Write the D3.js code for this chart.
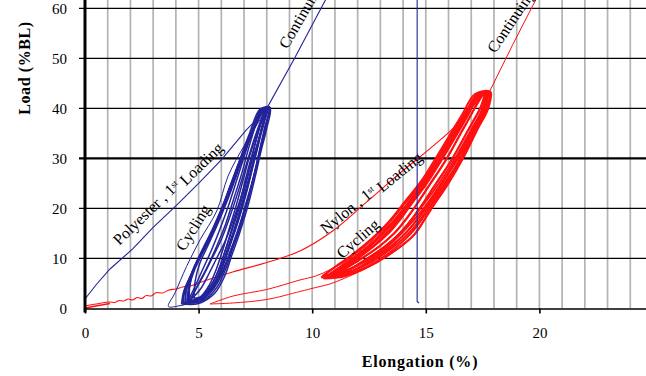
<!DOCTYPE html>
<html>
<head>
<meta charset="utf-8">
<script src="https://cdn.jsdelivr.net/npm/d3@7"></script>
<style>
  body { margin: 0; background: #fff; }
  text { font-family: "Liberation Serif", "Times New Roman", serif; fill: #000; }
</style>
</head>
<body>
<div id="chart"></div>
<script>
// Axis ticks
const xTicks = [0, 5, 10, 15, 20, 25];
const xGrid = [1, 2, 3, 4, 5, 6, 7, 8, 9, 10, 11, 12, 13, 14, 15, 16, 17, 18, 19, 20, 21, 22, 23, 24, 25];
const yTicks = [0, 10, 20, 30, 40, 50, 60];

// Polyester (blue) - [elongation %, load %BL]
const polyFirst = [[0, 1.9], [0.5, 4.8], [1.1, 7.9], [2.1, 11.9], [3.0, 16.2], [4.0, 20.5],
  [5.0, 25.0], [6.0, 29.7], [7.1, 35.7], [8.0, 39.8]];
const polyCont = [[8.0, 40], [9.2, 49.8], [10.6, 61.8], [11.5, 70], [14.62, 85], [14.62, 60],
  [14.62, 1.4], [14.7, 1.1]];
const polyUnload1 = [[8.0, 40], [7.6, 37], [7.0, 32.5], [6.3, 26.5], [5.8, 19.5], [5.06, 13.7],
  [4.47, 8.4], [3.96, 3.1], [3.67, 0.4], [4.1, 0.5], [4.8, 1.4], [5.4, 3.4], [5.9, 6.2],
  [6.3, 10.5], [6.7, 15.5], [7.1, 21], [7.45, 27], [7.75, 33], [8.0, 37.5], [8.15, 40]];
const polyLoops = [
  [[4.3, 1.0], [4.9, 1.6], [5.5, 3.5], [5.95, 6.5], [6.3, 10], [6.65, 14], [7.0, 19], [7.35, 25],
   [7.65, 31], [7.9, 36], [8.1, 40], [7.85, 40.2], [7.4, 36], [6.95, 31], [6.5, 25.5], [6.1, 20.5],
   [5.6, 15], [5.1, 10.5], [4.65, 6.5], [4.35, 3], [4.3, 1.0]],
  [[4.45, 1.3], [5.0, 1.8], [5.55, 4], [5.95, 7.5], [6.25, 11], [6.55, 15], [6.9, 20], [7.25, 26],
   [7.55, 32], [7.8, 36.5], [8.0, 39.8], [7.8, 40], [7.35, 35.5], [6.9, 30.5], [6.45, 25], [6.0, 19.5],
   [5.5, 14.5], [5.05, 10.5], [4.7, 7], [4.45, 3.5], [4.45, 1.3]],
  [[4.6, 1.6], [5.1, 2.2], [5.6, 5], [5.95, 8.5], [6.2, 12], [6.5, 16], [6.85, 21], [7.2, 27],
   [7.5, 33], [7.75, 37], [7.95, 39.6], [7.75, 39.9], [7.3, 35], [6.85, 30], [6.4, 24.5], [5.95, 19],
   [5.45, 14], [5.0, 10], [4.75, 7.5], [4.6, 4], [4.6, 1.6]],
  [[4.25, 0.9], [5.0, 1.0], [5.7, 3], [6.15, 6.5], [6.45, 10.5], [6.8, 15], [7.2, 21], [7.5, 26.5],
   [7.75, 31.5], [8.0, 36], [8.15, 40], [7.95, 40.3], [7.5, 36.5], [7.05, 32], [6.55, 26], [6.15, 21],
   [5.65, 15.5], [5.15, 11], [4.7, 7], [4.35, 3.5], [4.25, 0.9]],
  [[4.8, 2.0], [5.3, 2.8], [5.75, 5.5], [6.05, 9], [6.35, 13], [6.65, 17], [7.0, 22.5], [7.35, 28.5],
   [7.65, 34], [7.9, 38], [8.05, 40], [7.9, 40], [7.55, 37], [7.1, 32], [6.7, 27], [6.3, 22],
   [5.85, 17], [5.4, 12.5], [5.05, 9], [4.85, 5.5], [4.8, 2.0]],
  [[4.35, 1.2], [4.95, 1.3], [5.45, 3], [5.85, 5.8], [6.15, 9.5], [6.45, 13.5], [6.75, 17.5], [7.1, 23],
   [7.4, 28.5], [7.7, 34], [7.95, 39.5], [7.7, 39.8], [7.2, 34.5], [6.75, 29], [6.3, 23.5], [5.85, 18],
   [5.35, 13], [4.9, 9], [4.55, 5.5], [4.35, 2.5], [4.35, 1.2]],
  [[4.5, 1.4], [5.2, 1.6], [5.8, 4.2], [6.2, 8], [6.5, 12], [6.85, 16.5], [7.2, 22], [7.5, 27.5],
   [7.8, 33], [8.05, 38], [8.15, 40.2], [8.0, 40.2], [7.6, 37.5], [7.15, 33], [6.75, 28], [6.35, 23],
   [5.9, 18], [5.4, 13], [4.95, 9.5], [4.6, 5.5], [4.5, 1.4]],
  [[4.4, 1.1], [5.05, 1.4], [5.6, 3.6], [6.05, 7], [6.35, 10.8], [6.7, 15], [7.05, 20.5], [7.4, 26],
   [7.7, 31.5], [7.95, 36.5], [8.1, 39.9], [7.9, 40.1], [7.45, 36], [7.0, 31.5], [6.55, 26], [6.1, 21],
   [5.6, 15.8], [5.1, 11.2], [4.7, 7.2], [4.45, 3.6], [4.4, 1.1]],
  [[4.55, 1.5], [5.15, 2], [5.65, 4.6], [6.0, 8], [6.3, 11.8], [6.6, 16], [6.95, 21.2], [7.3, 27],
   [7.6, 32.5], [7.85, 37], [8.05, 39.9], [7.85, 40], [7.45, 36.5], [7.0, 31.5], [6.6, 26.5], [6.2, 21.5],
   [5.75, 16.5], [5.25, 11.8], [4.85, 8], [4.6, 4.5], [4.55, 1.5]],
  [[4.6, 1.4], [5.2, 2.6], [5.6, 5], [5.9, 8], [6.2, 12], [6.5, 16.5], [6.8, 21], [7.1, 26.5],
   [7.4, 31.5], [7.7, 36.5], [7.95, 40], [7.8, 40], [7.5, 36.5], [7.2, 32], [6.9, 27], [6.55, 22],
   [6.2, 17], [5.8, 12.5], [5.4, 8.5], [5.0, 5], [4.6, 1.4]],
  [[4.5, 1.2], [5.05, 2.2], [5.45, 4.5], [5.75, 7.5], [6.05, 11.5], [6.35, 16], [6.65, 20.5], [6.95, 25.5],
   [7.25, 30.5], [7.6, 35.5], [7.9, 39.8], [7.75, 40], [7.4, 36], [7.05, 31], [6.7, 26], [6.35, 21],
   [5.95, 16], [5.55, 11.5], [5.15, 7.5], [4.8, 4], [4.5, 1.2]],
  [[4.6, 1.5], [5.1, 4], [5.46, 7], [5.79, 10], [6.22, 14], [6.7, 20], [7.05, 25], [7.38, 30],
   [7.73, 35], [7.95, 40], [7.53, 35], [7.18, 30], [6.85, 25], [6.5, 20], [6.02, 14], [5.59, 10],
   [5.26, 7], [4.9, 4], [4.6, 1.5]]
];

// Nylon (red)
const nylonStart = [[0, 0.1], [0.6, 0.6], [1.1, 1.0]];
const nylonFirst = [[0, 0.5], [0.5, 0.9], [1.1, 1.3], [1.3, 1.2], [1.5, 1.6], [1.7, 1.5], [1.9, 1.9],
  [2.1, 1.7], [2.3, 2.2], [2.5, 2.0], [2.7, 2.6], [2.9, 2.5], [3.15, 3.2], [3.4, 3.1], [3.7, 3.7],
  [4.0, 3.9], [4.3, 4.3], [4.7, 4.6], [5.06, 5.2], [6.5, 7.3], [8.0, 9.2], [9.46, 11.5],
  [10.9, 15.5], [12.4, 21.3], [13.9, 27.2], [15.3, 32.4], [16.2, 36], [17.0, 40], [17.6, 43.3]];
const nylonCont = [[17.8, 43.3], [18.8, 52.5], [19.84, 61.7], [20.5, 68]];
const nylonUnload1 = [[17.85, 43.3], [17.75, 40], [17.3, 36], [16.7, 30.5], [16.0, 25], [15.1, 19],
  [14.5, 14.8], [13.4, 10.8], [12.3, 7.9], [11.4, 6.0], [10.78, 4.9], [10.16, 4.2], [9.46, 3.4],
  [8.0, 1.8], [6.5, 1.1], [5.5, 0.9]];
const nylonReload1 = [[5.5, 0.9], [6.52, 2.5], [8.0, 3.8], [9.46, 5.7], [10.16, 6.5], [10.8, 7.8],
  [11.6, 9.8], [13.1, 15.4], [14.1, 20.5], [15.0, 25.5], [15.7, 30], [16.3, 34.5], [16.9, 39],
  [17.35, 42.8], [17.7, 43.3]];
const nylonLoops = [
  [[10.4, 6.2], [11.0, 8.3], [11.7, 10.4], [12.5, 13.3], [13.2, 16.2], [14.0, 20.5], [14.7, 24.5],
   [15.3, 28.5], [15.9, 33], [16.5, 37.5], [17.0, 41], [17.35, 43.2], [17.8, 43.3], [17.7, 40],
   [17.2, 35.5], [16.6, 30], [15.9, 24.8], [15.05, 18.5], [14.4, 14.3], [13.3, 10.5], [12.2, 7.8],
   [11.3, 6.4], [10.4, 6.2]],
  [[10.6, 6.4], [11.3, 8.6], [12.0, 10.8], [12.8, 13.8], [13.5, 17], [14.2, 21], [14.9, 25.3],
   [15.5, 29.5], [16.1, 34], [16.7, 38.5], [17.2, 42.5], [17.7, 43], [17.55, 39.5], [17.05, 35],
   [16.45, 29.5], [15.75, 24.5], [14.95, 19], [14.2, 14.8], [13.2, 11], [12.2, 8.3], [11.3, 6.8],
   [10.6, 6.4]],
  [[10.9, 6.6], [11.6, 9], [12.4, 11.8], [13.1, 14.8], [13.8, 18.3], [14.5, 22.3], [15.2, 26.8],
   [15.8, 31], [16.4, 35.5], [17.0, 40], [17.4, 43], [17.75, 43.2], [17.6, 40.5], [17.1, 36],
   [16.5, 31], [15.8, 25.5], [15.1, 20.5], [14.3, 16], [13.4, 12], [12.4, 9], [11.6, 7.3], [10.9, 6.6]],
  [[10.5, 6.0], [11.2, 8.1], [11.9, 10.3], [12.7, 13.2], [13.4, 16.3], [14.2, 20.5], [14.9, 24.8],
   [15.55, 29.3], [16.15, 33.8], [16.75, 38.5], [17.25, 42.5], [17.85, 43.3], [17.75, 40], [17.3, 36],
   [16.7, 30.5], [16.0, 25], [15.1, 19], [14.5, 14.8], [13.4, 10.8], [12.3, 7.9], [11.4, 6.4], [10.5, 6.0]],
  [[11.2, 7.2], [11.9, 9.6], [12.7, 12.5], [13.4, 15.7], [14.1, 19.5], [14.8, 23.6], [15.4, 27.7],
   [16.0, 32.2], [16.6, 36.8], [17.1, 40.8], [17.5, 43], [17.7, 43], [17.4, 39], [16.9, 34.5],
   [16.3, 29.5], [15.6, 24.5], [14.9, 20], [14.1, 15.8], [13.3, 12.3], [12.4, 9.6], [11.7, 7.9], [11.2, 7.2]],
  [[10.45, 6.5], [11.1, 8.6], [11.8, 10.9], [12.6, 13.9], [13.3, 17], [14.05, 21.2], [14.8, 25.5],
   [15.4, 29.8], [16.0, 34.3], [16.6, 38.8], [17.15, 42.8], [17.6, 43.2], [17.5, 40], [17.0, 35.8],
   [16.35, 30.5], [15.65, 25.5], [14.85, 20.5], [14.05, 16], [13.1, 11.8], [12.1, 8.9], [11.2, 7.2],
   [10.45, 6.5]],
  [[10.7, 6.2], [11.4, 8.2], [12.1, 10.4], [12.9, 13.3], [13.6, 16.6], [14.35, 20.8], [15.05, 25],
   [15.65, 29.3], [16.25, 33.8], [16.85, 38.5], [17.3, 42.3], [17.8, 43.1], [17.65, 39.8], [17.15, 35.5],
   [16.55, 30], [15.85, 24.8], [15.05, 19.3], [14.35, 15], [13.35, 11], [12.35, 8.2], [11.5, 6.7],
   [10.7, 6.2]],
  [[10.6, 6.3], [10.83, 7], [11.93, 10], [12.73, 12.5], [13.36, 15], [13.83, 17.5], [14.23, 20],
   [14.6, 22.5], [14.96, 25], [15.33, 27.5], [15.68, 30], [15.99, 32.5], [16.29, 35], [16.6, 37.5],
   [16.9, 40], [17.45, 43.1], [17.14, 40], [16.84, 37.5], [16.53, 35], [16.23, 32.5], [15.92, 30],
   [15.57, 27.5], [15.2, 25], [14.84, 22.5], [14.47, 20], [14.07, 17.5], [13.6, 15], [12.97, 12.5],
   [12.17, 10], [11.07, 7], [10.6, 6.3]],
  [[10.8, 6.4], [11.08, 7], [12.18, 10], [12.98, 12.5], [13.61, 15], [14.08, 17.5], [14.48, 20],
   [14.85, 22.5], [15.21, 25], [15.58, 27.5], [15.93, 30], [16.24, 32.5], [16.54, 35], [16.85, 37.5],
   [17.15, 40], [17.6, 43.2], [17.39, 40], [17.09, 37.5], [16.78, 35], [16.48, 32.5], [16.17, 30],
   [15.82, 27.5], [15.45, 25], [15.09, 22.5], [14.72, 20], [14.32, 17.5], [13.85, 15], [13.22, 12.5],
   [12.42, 10], [11.32, 7], [10.8, 6.4]],
  [[11.0, 6.5], [11.33, 7], [12.43, 10], [13.23, 12.5], [13.86, 15], [14.33, 17.5], [14.73, 20],
   [15.1, 22.5], [15.46, 25], [15.83, 27.5], [16.18, 30], [16.49, 32.5], [16.79, 35], [17.1, 37.5],
   [17.4, 40], [17.7, 43.2], [17.64, 40], [17.34, 37.5], [17.03, 35], [16.73, 32.5], [16.42, 30],
   [16.07, 27.5], [15.7, 25], [15.34, 22.5], [14.97, 20], [14.57, 17.5], [14.1, 15], [13.47, 12.5],
   [12.67, 10], [11.57, 7], [11.0, 6.5]]
];

// Annotations: text, anchor point [elongation, load], angle
const labels = [
  {text: "Polyester , 1", sup: "st", rest: " Loading", at: [3.6, 23.2], angle: -44},
  {text: "Cycling", at: [4.75, 16.2], angle: -58},
  {text: "Continuing", at: [8.7, 52.3], angle: -60, anchor: "start"},
  {text: "Nylon , 1", sup: "st", rest: " Loading", at: [12.55, 23.4], angle: -39},
  {text: "Cycling", at: [12.0, 14.0], angle: -41},
  {text: "Continuing", at: [17.85, 51.5], angle: -56, anchor: "start"}
];

// Setup
const svgWidth = 646;
const svgHeight = 376;
const blue = "#23239a";
const red = "#ff1010";

const svg = d3.select("#chart")
  .append("svg")
  .attr("width", svgWidth)
  .attr("height", svgHeight)
  .style("background", "#fff");

const x = d3.scaleLinear().domain([0, 25]).range([85, 653]);
const y = d3.scaleLinear().domain([0, 60]).range([308.5, 8.3]);

// vertical gray grid
svg.append("g")
  .selectAll("line")
  .data(xGrid)
  .enter().append("line")
    .attr("x1", d => x(d)).attr("x2", d => x(d))
    .attr("y1", 0).attr("y2", y(0))
    .attr("stroke", "#b3b3b3")
    .attr("stroke-width", 1.7);

// horizontal black grid
svg.append("g")
  .selectAll("line")
  .data(yTicks.slice(1))
  .enter().append("line")
    .attr("x1", x(0) - 6).attr("x2", svgWidth)
    .attr("y1", d => y(d)).attr("y2", d => y(d))
    .attr("stroke", "#000")
    .attr("stroke-width", d => d === 30 ? 2.2 : 1.2);

// curves
const line = d3.line()
  .x(d => x(d[0]))
  .y(d => y(d[1]))
  .curve(d3.curveCatmullRom.alpha(0.5));
const straight = d3.line()
  .x(d => x(d[0]))
  .y(d => y(d[1]));
const monotone = d3.line()
  .x(d => x(d[0]))
  .y(d => y(d[1]))
  .curve(d3.curveMonotoneX);

const curves = svg.append("g").attr("fill", "none");

curves.selectAll(".nloop")
  .data(nylonLoops)
  .enter().append("path")
    .attr("d", line)
    .attr("stroke", red)
    .attr("stroke-width", 1.9);
curves.append("path").attr("d", monotone(nylonFirst)).attr("stroke", red).attr("stroke-width", 1.1);
curves.append("path").attr("d", straight(nylonStart)).attr("stroke", red).attr("stroke-width", 1.5);
curves.append("path").attr("d", line(nylonUnload1)).attr("stroke", red).attr("stroke-width", 1);
curves.append("path").attr("d", line(nylonReload1)).attr("stroke", red).attr("stroke-width", 1);
curves.append("path").attr("d", straight(nylonCont)).attr("stroke", red).attr("stroke-width", 1);

curves.selectAll(".ploop")
  .data(polyLoops)
  .enter().append("path")
    .attr("d", line)
    .attr("stroke", blue)
    .attr("stroke-width", 1.5);
curves.append("path").attr("d", line(polyUnload1)).attr("stroke", blue).attr("stroke-width", 1);
curves.append("path").attr("d", straight(polyFirst)).attr("stroke", blue).attr("stroke-width", 1.1);
curves.append("path").attr("d", straight(polyCont)).attr("stroke", blue).attr("stroke-width", 1.1);

// annotations
labels.forEach(l => {
  const t = svg.append("text")
    .attr("transform", `translate(${x(l.at[0])},${y(l.at[1])}) rotate(${l.angle})`)
    .attr("text-anchor", l.anchor || "middle")
    .attr("dy", "0.35em")
    .style("font-size", "16px")
    .text(l.text);
  if (l.sup) {
    t.append("tspan").attr("dy", "-0.45em").style("font-size", "9px").text(l.sup);
    t.append("tspan").attr("dy", "0.45em").text(l.rest);
  }
});

// axes
const xAxis = svg.append("g")
  .attr("transform", `translate(0,${y(0)})`)
  .call(d3.axisBottom(x).tickValues(xTicks).tickSize(5).tickSizeOuter(0).tickPadding(14));
xAxis.select(".domain").attr("stroke", "#000").attr("stroke-width", 1.6);
xAxis.selectAll(".tick line").attr("stroke", "#000").attr("stroke-width", 1.6);
xAxis.selectAll(".tick text")
  .style("font-family", "'Liberation Serif', serif")
  .style("font-size", "15px")
  .attr("fill", "#000");

const yAxis = svg.append("g")
  .attr("transform", `translate(${x(0)},0)`)
  .call(d3.axisLeft(y).tickValues(yTicks).tickSize(0).tickSizeOuter(0).tickPadding(18));
yAxis.select(".domain").remove();
yAxis.selectAll(".tick text")
  .style("font-family", "'Liberation Serif', serif")
  .style("font-size", "15px")
  .attr("fill", "#000");
svg.append("line")
  .attr("x1", x(0)).attr("x2", x(0))
  .attr("y1", 0).attr("y2", y(0) + 4)
  .attr("stroke", "#000")
  .attr("stroke-width", 3);

// axis titles
svg.append("text")
  .attr("x", 420).attr("y", 367)
  .attr("text-anchor", "middle")
  .style("font-size", "16px")
  .style("font-weight", "bold")
  .style("letter-spacing", "0.8px")
  .text("Elongation (%)");

svg.append("text")
  .attr("transform", "translate(30,68) rotate(-90)")
  .attr("text-anchor", "middle")
  .style("font-size", "16px")
  .style("font-weight", "bold")
  .style("letter-spacing", "0.6px")
  .text("Load (%BL)");
</script>
</body>
</html>
